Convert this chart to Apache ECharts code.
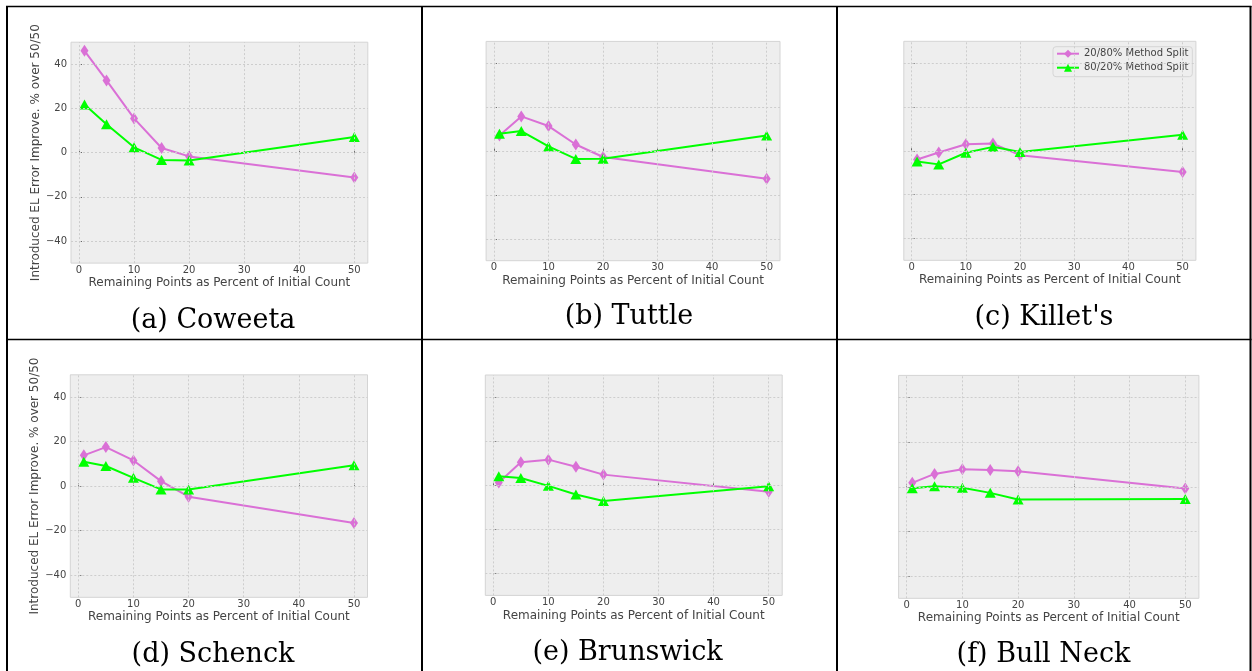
<!DOCTYPE html>
<html><head><meta charset="utf-8">
<script src="https://cdn.jsdelivr.net/npm/echarts@6/dist/echarts.min.js"></script>
<style>html,body{margin:0;padding:0;background:#fff}#c{width:1252px;height:671px}</style>
</head><body><div id="c"></div>
<script>
// ---- data ----
const xValues = [1, 5, 10, 15, 20, 50];
const xTicks = [0, 10, 20, 30, 40, 50];
const yTicks = [-40, -20, 0, 20, 40];
const seriesNames = ['20/80% Method Split', '80/20% Method Split'];
const panelTitles = ['(a) Coweeta', '(b) Tuttle', "(c) Killet's", '(d) Schenck', '(e) Brunswick', '(f) Bull Neck'];
const xAxisTitle = 'Remaining Points as Percent of Initial Count';
const yAxisTitle = 'Introduced EL Error Improve. % over 50/50';

const coweeta2080 = [46.1, 32.7, 15.5, 2.1, -1.7, -11.2];
const coweeta8020 = [21.8, 12.9, 2.4, -3.3, -3.6, 7.1];
const tuttle2080 = [7.1, 15.8, 11.4, 3.0, -2.7, -12.6];
const tuttle8020 = [7.9, 9.1, 2.1, -3.6, -3.5, 7.1];
const killets2080 = [-4.0, -0.8, 3.0, 3.3, -2.0, -9.7];
const killets8020 = [-4.9, -6.2, -0.9, 1.8, -0.5, 7.3];
const schenck2080 = [13.8, 17.5, 11.5, 2.2, -4.8, -16.6];
const schenck8020 = [10.9, 9.0, 3.7, -1.5, -1.5, 9.3];
const brunswick2080 = [1.2, 10.4, 11.6, 8.4, 4.8, -3.0];
const brunswick8020 = [4.1, 3.3, -0.3, -4.2, -7.2, -0.5];
const bullneck2080 = [1.8, 5.8, 7.9, 7.6, 7.0, -0.7];
const bullneck8020 = [-0.6, 0.3, -0.4, -2.7, -5.7, -5.5];

const panelData = [
  [coweeta2080, coweeta8020], [tuttle2080, tuttle8020], [killets2080, killets8020],
  [schenck2080, schenck8020], [brunswick2080, brunswick8020], [bullneck2080, bullneck8020]
];

// ---- layout ----
const grids = [
  {left: 71.0, top: 42.2, width: 296.8, height: 220.9},
  {left: 486.1, top: 41.4, width: 293.9, height: 219.3},
  {left: 903.8, top: 41.3, width: 292.1, height: 219.0},
  {left: 70.3, top: 374.8, width: 297.2, height: 222.5},
  {left: 485.3, top: 375.0, width: 296.9, height: 220.4},
  {left: 898.6, top: 375.4, width: 300.3, height: 222.9}
];
const titleCenters = [[213, 321], [629, 317], [1044, 318], [213, 655], [627.5, 653], [1043.5, 654.5]];
const showYLabels = [true, false, false, true, false, false];

const colors = ['#DA70D6', '#00FF00'];
const symbols = ['diamond', 'triangle'];
const symbolSizes = [[8, 12], [11, 10]];
const textColor = '#444444';
const minus = v => (v < 0 ? '\u2212' + Math.abs(v) : String(v));

const option = {
  animation: false,
  backgroundColor: '#ffffff',
  grid: grids.map(g => ({
    left: g.left, top: g.top, width: g.width, height: g.height,
    show: true, backgroundColor: '#eeeeee', borderColor: '#d4d4d4', borderWidth: 1,
    containLabel: false
  })),
  xAxis: grids.map((g, i) => ({
    type: 'value', gridIndex: i, min: -1.45, max: 52.45,
    name: xAxisTitle, nameLocation: 'middle', nameGap: 14,
    nameTextStyle: {fontFamily: 'DejaVu Sans', fontSize: 12, color: textColor},
    axisLine: {show: false},
    axisTick: {show: true, inside: true, length: 3, customValues: xTicks, lineStyle: {color: '#666', width: 1}},
    axisLabel: {show: true, customValues: xTicks, margin: 2, fontFamily: 'DejaVu Sans', fontSize: 10, color: textColor},
    splitLine: {show: false}
  })),
  yAxis: grids.map((g, i) => ({
    type: 'value', gridIndex: i, min: -50, max: 50,
    name: showYLabels[i] ? yAxisTitle : '', nameLocation: 'middle', nameGap: 28,
    nameTextStyle: {fontFamily: 'DejaVu Sans', fontSize: 12, color: textColor},
    axisLine: {show: false},
    axisTick: {show: true, inside: true, length: 3, customValues: yTicks, lineStyle: {color: '#666', width: 1}},
    axisLabel: {show: showYLabels[i], customValues: yTicks, margin: 4, fontFamily: 'DejaVu Sans', fontSize: 10, color: textColor, formatter: minus},
    splitLine: {show: false}
  })),
  legend: {
    data: seriesNames,
    orient: 'vertical', left: 1053, top: 46.7,
    padding: [2, 4, 4, 3], itemGap: 4, itemWidth: 22, itemHeight: 10,
    backgroundColor: '#eeeeee', borderColor: '#d6d6d6', borderWidth: 1, borderRadius: 3,
    textStyle: {fontFamily: 'DejaVu Sans', fontSize: 10, color: textColor}
  },
  series: [],
  graphic: []
};

panelData.forEach((pair, i) => {
  // grid lines drawn on the axes' own scales
  option.series.push({
    type: 'line', name: 'grid' + i, xAxisIndex: i, yAxisIndex: i, data: [], z: 1, silent: true,
    markLine: {
      silent: true, symbol: 'none', animation: false,
      label: {show: false},
      lineStyle: {color: '#cdcdcd', width: 1, type: [2, 2]},
      emphasis: {disabled: true},
      data: yTicks.map(v => ({yAxis: v})).concat(xTicks.map(v => ({xAxis: v})))
    }
  });
  pair.forEach((vals, k) => {
    option.series.push({
      type: 'line', name: seriesNames[k], xAxisIndex: i, yAxisIndex: i,
      data: xValues.map((x, j) => [x, vals[j]]),
      symbol: symbols[k], symbolSize: symbolSizes[k], showAllSymbol: true,
      lineStyle: {color: colors[k], width: 2},
      itemStyle: {color: colors[k]},
      z: 3 + k
    });
  });
});

// titles
panelTitles.forEach((t, i) => {
  option.graphic.push({
    type: 'text', x: titleCenters[i][0], y: titleCenters[i][1],
    style: {text: t, fill: '#000', font: '27px "DejaVu Serif"', textAlign: 'center', textVerticalAlign: 'middle'}
  });
});

// table lines
const vLines = [7, 422, 837, 1250.5];
const hLines = [6.5, 339.5];
vLines.forEach(x => option.graphic.push({type: 'line', shape: {x1: x, y1: 6, x2: x, y2: 671}, style: {stroke: '#000', lineWidth: 2}}));
hLines.forEach(y => option.graphic.push({type: 'line', shape: {x1: 6, y1: y, x2: 1251.5, y2: y}, style: {stroke: '#000', lineWidth: 1.5}}));

const chart = echarts.init(document.getElementById('c'), null, {renderer: 'canvas'});
chart.setOption(option);
</script></body></html>
